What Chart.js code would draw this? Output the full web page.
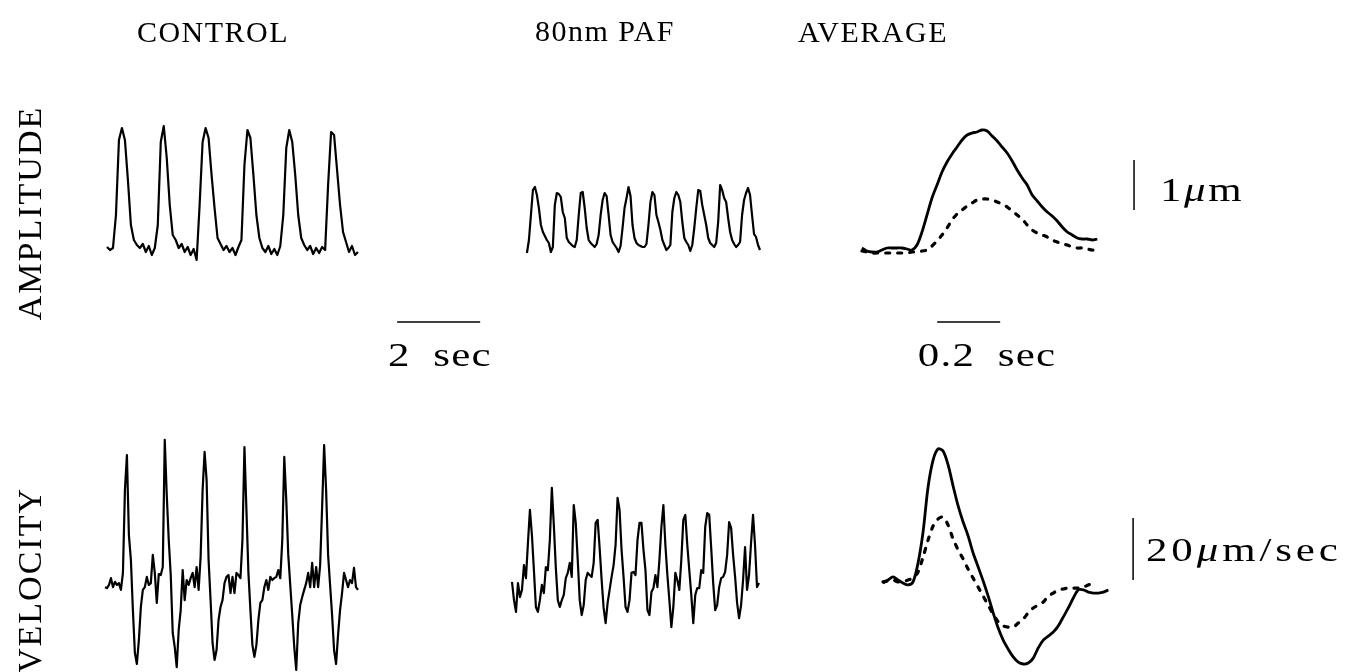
<!DOCTYPE html>
<html>
<head>
<meta charset="utf-8">
<script src="https://cdn.jsdelivr.net/npm/chart.js@4.4.1/dist/chart.umd.min.js"></script>
<style>
  html, body { margin: 0; padding: 0; background: #fff; }
  #wrap { position: relative; width: 1348px; height: 672px; overflow: hidden; }
  #fig { position: absolute; left: 0; top: 0; }
  .lbl { position: absolute; font-family: 'Liberation Serif', 'DejaVu Serif', serif; color: #000;
         white-space: nowrap; line-height: 1; transform: translate(-50%, -50%); }
  .title { font-size: 30px; letter-spacing: 1.5px; }
  .side { font-size: 34px; letter-spacing: 2px; transform: translate(-50%, -50%) rotate(-90deg); }
  .unit { font-size: 33px; letter-spacing: 1px; word-spacing: 8px; transform: translate(-50%, -50%) scaleX(1.3); }
  .bar { font-size: 33px; letter-spacing: 2px; transform-origin: 0 50%; transform: translate(0, -50%) scaleX(1.3); }
</style>
</head>
<body>
<div id="wrap">
  <canvas id="fig" width="1348" height="672"></canvas>
  <div class="lbl title" style="left:213px; top:32px">CONTROL</div>
  <div class="lbl title" style="left:605px; top:31px">80nm PAF</div>
  <div class="lbl title" style="left:873px; top:32px">AVERAGE</div>
  <div class="lbl side" style="left:30px; top:213px">AMPLITUDE</div>
  <div class="lbl side" style="left:30px; top:580px">VELOCITY</div>
  <div class="lbl unit" style="left:440px; top:355px">2 sec</div>
  <div class="lbl unit" style="left:987px; top:355px">0.2 sec</div>
  <div class="lbl bar" style="left:1160px; top:190px">1<i>μ</i>m</div>
  <div class="lbl bar" style="left:1146px; top:550px; letter-spacing:3px">20<i>μ</i>m/sec</div>
</div>
<script>
// amplitude in um, velocity in um/sec, time in sec
let ctrlAmp = [0.06,0.00,0.04,0.70,2.20,2.44,2.20,1.40,0.50,0.20,0.10,0.04,0.12,-0.04,0.08,-0.10,0.04,0.50,2.16,2.48,
  1.84,0.90,0.30,0.20,0.04,0.12,-0.04,0.06,-0.10,0.02,-0.20,0.90,2.16,2.44,2.24,1.50,0.84,0.24,0.12,0.00,
  0.08,-0.04,0.04,-0.10,0.06,0.20,1.70,2.40,2.24,1.50,0.70,0.24,0.04,-0.04,0.08,-0.08,0.02,-0.10,0.08,0.70,
  2.04,2.40,2.16,1.50,0.70,0.24,0.10,0.00,0.08,-0.08,0.04,-0.06,0.06,0.00,1.30,2.36,2.30,1.60,0.90,0.36,
  0.16,-0.04,0.08,-0.10,-0.04];

let ctrlVel = [-2.3,-2.6,-1.6,0.6,-2.3,-0.6,-1.6,-1.0,-3.2,2.3,29.0,40.3,14.5,6.5,-9.7,-23.5,-27.1,-19.4,-8.7,-3.2,
  -2.3,1.0,-1.6,-1.0,8.1,2.3,-7.4,1.9,1.6,4.2,45.2,27.4,12.9,1.6,-17.1,-21.6,-28.1,-16.1,-9.7,3.2,
  -6.5,0,-1.6,0.6,2.3,-2.3,4.2,-3.2,7.4,29.0,41.3,32.3,6.5,-6.5,-20.3,-25.8,-22.6,-12.9,-8.7,-6.5,
  -1.0,1.0,1.6,-4.2,1.0,-4.2,2.3,1.6,0.6,12.9,42.9,22.6,2.3,-9.7,-21.0,-24.8,-21.0,-12.9,-7.4,-6.5,
  -2.3,0,-3.2,1.0,0,0.6,1.0,3.2,0.6,12.9,39.7,25.8,8.1,-1.6,-11.3,-21.6,-29.0,-13.9,-8.1,-5.5,
  -3.2,-1.0,2.3,-2.3,5.5,-2.3,4.2,-2.3,4.8,23.5,43.5,29.0,8.1,-1.6,-11.3,-22.6,-27.1,-17.7,-9.7,-4.2,
  2.3,0,-2.3,0,-1.0,3.9,-2.3,-3.2];

let pafAmp = [-0.06,0.20,0.70,1.20,1.26,1.10,0.84,0.50,0.36,0.28,0.20,0.14,-0.04,0.06,0.90,1.14,1.12,1.06,0.76,0.64,
  0.24,0.16,0.12,0.08,0.06,0.20,0.70,1.14,1.16,0.84,0.44,0.20,0.14,0.10,0.06,0.12,0.30,0.70,1.00,1.14,
  1.08,0.70,0.30,0.16,0.10,0.04,-0.04,0.08,0.44,0.84,1.04,1.26,1.08,0.50,0.24,0.14,0.10,0.08,0.06,0.06,
  0.12,0.50,0.96,1.16,1.10,0.70,0.56,0.40,0.20,0.10,0.00,0.04,0.10,0.76,1.04,1.16,1.10,0.96,0.56,0.24,
  0.16,0.10,-0.02,0.10,0.44,0.84,1.20,1.18,0.90,0.70,0.50,0.24,0.14,0.10,0.06,0.14,0.56,1.30,1.20,1.04,
  0.96,0.64,0.36,0.20,0.12,0.06,0.10,0.16,0.70,1.00,1.14,1.24,1.10,0.70,0.32,0.26,0.10,0.00];

let pafVel = [-0.6,-6.5,-10.3,-1.0,-5.5,-3.2,4.8,0.6,11.9,22.6,14.5,3.2,-8.7,-10.3,-6.5,-1.6,-4.2,4.2,3.2,12.9,
  29.7,17.7,3.9,-6.5,-8.7,-6.5,-4.8,0.6,2.3,5.5,1.0,24.2,18.4,6.5,-6.5,-11.3,-8.1,0,2.3,1.6,
  1.0,5.5,18.4,19.4,10.3,0,-9.0,-13.9,-7.4,-3.2,1.0,4.8,11.3,26.5,22.6,9.7,1.0,-8.7,-10.3,-6.5,
  2.3,2.6,1.6,12.9,18.4,18.4,9.7,3.2,-9.7,-11.3,-3.9,-2.6,1.6,-2.3,6.5,17.1,24.2,11.3,1.6,-6.5,
  -15.2,-8.7,2.3,0,-3.2,6.5,19.4,21.0,11.3,3.2,-4.8,-13.9,-4.8,-2.6,-2.6,3.2,2.3,17.1,21.6,21.0,
  10.3,-1.0,-9.7,-8.1,-2.3,0.6,1.0,2.6,8.1,18.7,16.8,8.1,1.0,-7.4,-12.3,-8.1,0,10.6,-3.2,1.6,
  11.9,21.0,11.3,-2.3,-1.0];

let avgAmpControl = [0.04,-0.02,-0.04,-0.04,0.00,0.04,0.04,0.04,0.04,0.02,0.00,0.10,0.36,0.70,1.04,1.30,1.56,1.76,1.92,2.06,
  2.20,2.30,2.34,2.36,2.40,2.38,2.28,2.18,2.06,1.94,1.78,1.60,1.44,1.30,1.10,0.98,0.86,0.76,0.68,0.58,
  0.46,0.36,0.30,0.24,0.22,0.22,0.20,0.22];
let avgAmpPaf = [-0.02,-0.04,-0.06,-0.06,-0.06,-0.06,-0.06,-0.06,-0.06,-0.06,-0.04,-0.04,-0.02,0.00,0.08,0.18,0.30,0.44,0.60,0.72,
  0.80,0.88,0.94,1.00,1.02,1.02,1.00,0.96,0.92,0.86,0.78,0.70,0.62,0.50,0.40,0.34,0.30,0.26,0.20,0.16,
  0.12,0.10,0.06,0.04,0.04,0.02,0.00,0.00];
let avgVelControl = [-1.0,0,1.0,0,-1.0,-1.6,-0.6,5.5,15.5,30.0,38.7,42.3,41.6,37.1,30.3,23.9,18.7,14.2,8.7,4.2,
  -0.3,-5.2,-10.6,-15.5,-19.4,-22.3,-24.8,-26.5,-27.1,-26.8,-25.2,-21.9,-19.4,-18.1,-16.8,-14.8,-11.9,-9.0,-5.8,-3.2,
  -3.2,-3.9,-4.2,-4.2,-3.9,-3.2];
let avgVelPaf = [-0.6,-0.3,0,-0.6,-0.6,0,0.6,2.6,7.4,12.9,17.4,19.7,20.3,17.7,13.2,9.7,6.8,3.5,0.6,-2.3,
  -5.2,-8.1,-11.0,-13.5,-14.8,-15.2,-15.2,-13.9,-12.6,-10.6,-9.0,-8.1,-7.1,-5.2,-4.2,-3.2,-2.9,-2.6,-2.6,-2.6,
  -2.3,-1.6,-1.0];

// sample start times (sec) and intervals
let ctrlAmpStart = 0.048, ctrlAmpDt = 0.072;
let ctrlVelStart = 0, traceDt = 0.048;
let pafAmpStart = 0.36, pafVelStart = 0;
let avgAmpStart = 0.006, avgVelStart = 0.073, avgDt = 0.0159;

// scale bars: [x0, x1, y0, y1] in data units
let timeBar = [7.04, 9.04, -1.44, -1.44];
let avgTimeBar = [0.245, 0.445, -1.44, -1.44];
let ampBar = [0.870, 0.870, 0.8, 1.8];
let velBar = [0.867, 0.867, 0, 20];

const W = 1348, H = 672;
function xAxis(originPx, pxPerUnit) {
  return { type: 'linear', axis: 'x', display: false, bounds: 'data',
    min: -originPx / pxPerUnit, max: (W - originPx) / pxPerUnit };
}
function yAxis(zeroPx, pxPerUnit) {
  return { type: 'linear', axis: 'y', display: false, bounds: 'data',
    min: -(H - zeroPx) / pxPerUnit, max: zeroPx / pxPerUnit };
}
function series(values, start, dt) {
  return values.map((v, i) => ({ x: start + i * dt, y: v }));
}
function trace(values, start, dt, xID, yID, width) {
  return { data: series(values, start, dt), xAxisID: xID, yAxisID: yID,
    borderColor: '#000', borderWidth: width || 2.2, tension: 0, borderJoinStyle: 'round' };
}
function dotted(values, start, dt, xID, yID) {
  return { data: series(values, start, dt), xAxisID: xID, yAxisID: yID,
    borderColor: '#000', borderWidth: 3.2, borderDash: [4, 8], borderCapStyle: 'round', tension: 0.3 };
}
function bar(b, xID, yID) {
  return { data: [{ x: b[0], y: b[2] }, { x: b[1], y: b[3] }], xAxisID: xID, yAxisID: yID,
    borderColor: '#000', borderWidth: 1.5, tension: 0 };
}

let ctx = document.getElementById('fig');
let fig = new Chart(ctx, {
  type: 'line',
  data: {
    datasets: [
      trace(ctrlAmp, ctrlAmpStart, ctrlAmpDt, 'xCtrl', 'yAmp'),
      trace(ctrlVel, ctrlVelStart, traceDt, 'xCtrl', 'yVel'),
      trace(pafAmp, pafAmpStart, traceDt, 'xPaf', 'yAmp'),
      trace(pafVel, pafVelStart, traceDt, 'xPaf', 'yVel'),
      Object.assign(trace(avgAmpControl, avgAmpStart, avgDt, 'xAvg', 'yAmp', 2.8), { tension: 0.3 }),
      dotted(avgAmpPaf, avgAmpStart, avgDt, 'xAvg', 'yAmp'),
      Object.assign(trace(avgVelControl, avgVelStart, avgDt, 'xAvg', 'yVel', 2.8), { tension: 0.3 }),
      dotted(avgVelPaf, avgVelStart, avgDt, 'xAvg', 'yVel'),
      bar(timeBar, 'xCtrl', 'yAmp'),
      bar(avgTimeBar, 'xAvg', 'yAmp'),
      bar(ampBar, 'xAvg', 'yAmp'),
      bar(velBar, 'xAvg', 'yVel')
    ]
  },
  options: {
    responsive: false,
    animation: false,
    layout: { padding: 0 },
    elements: { point: { radius: 0 } },
    plugins: { legend: { display: false }, tooltip: { enabled: false } },
    scales: {
      xCtrl: xAxis(105, 41.5),
      xPaf: xAxis(512, 41.5),
      xAvg: xAxis(860, 315),
      yAmp: yAxis(250, 50),
      yVel: yAxis(580, 3.1)
    }
  }
});
</script>
</body>
</html>
